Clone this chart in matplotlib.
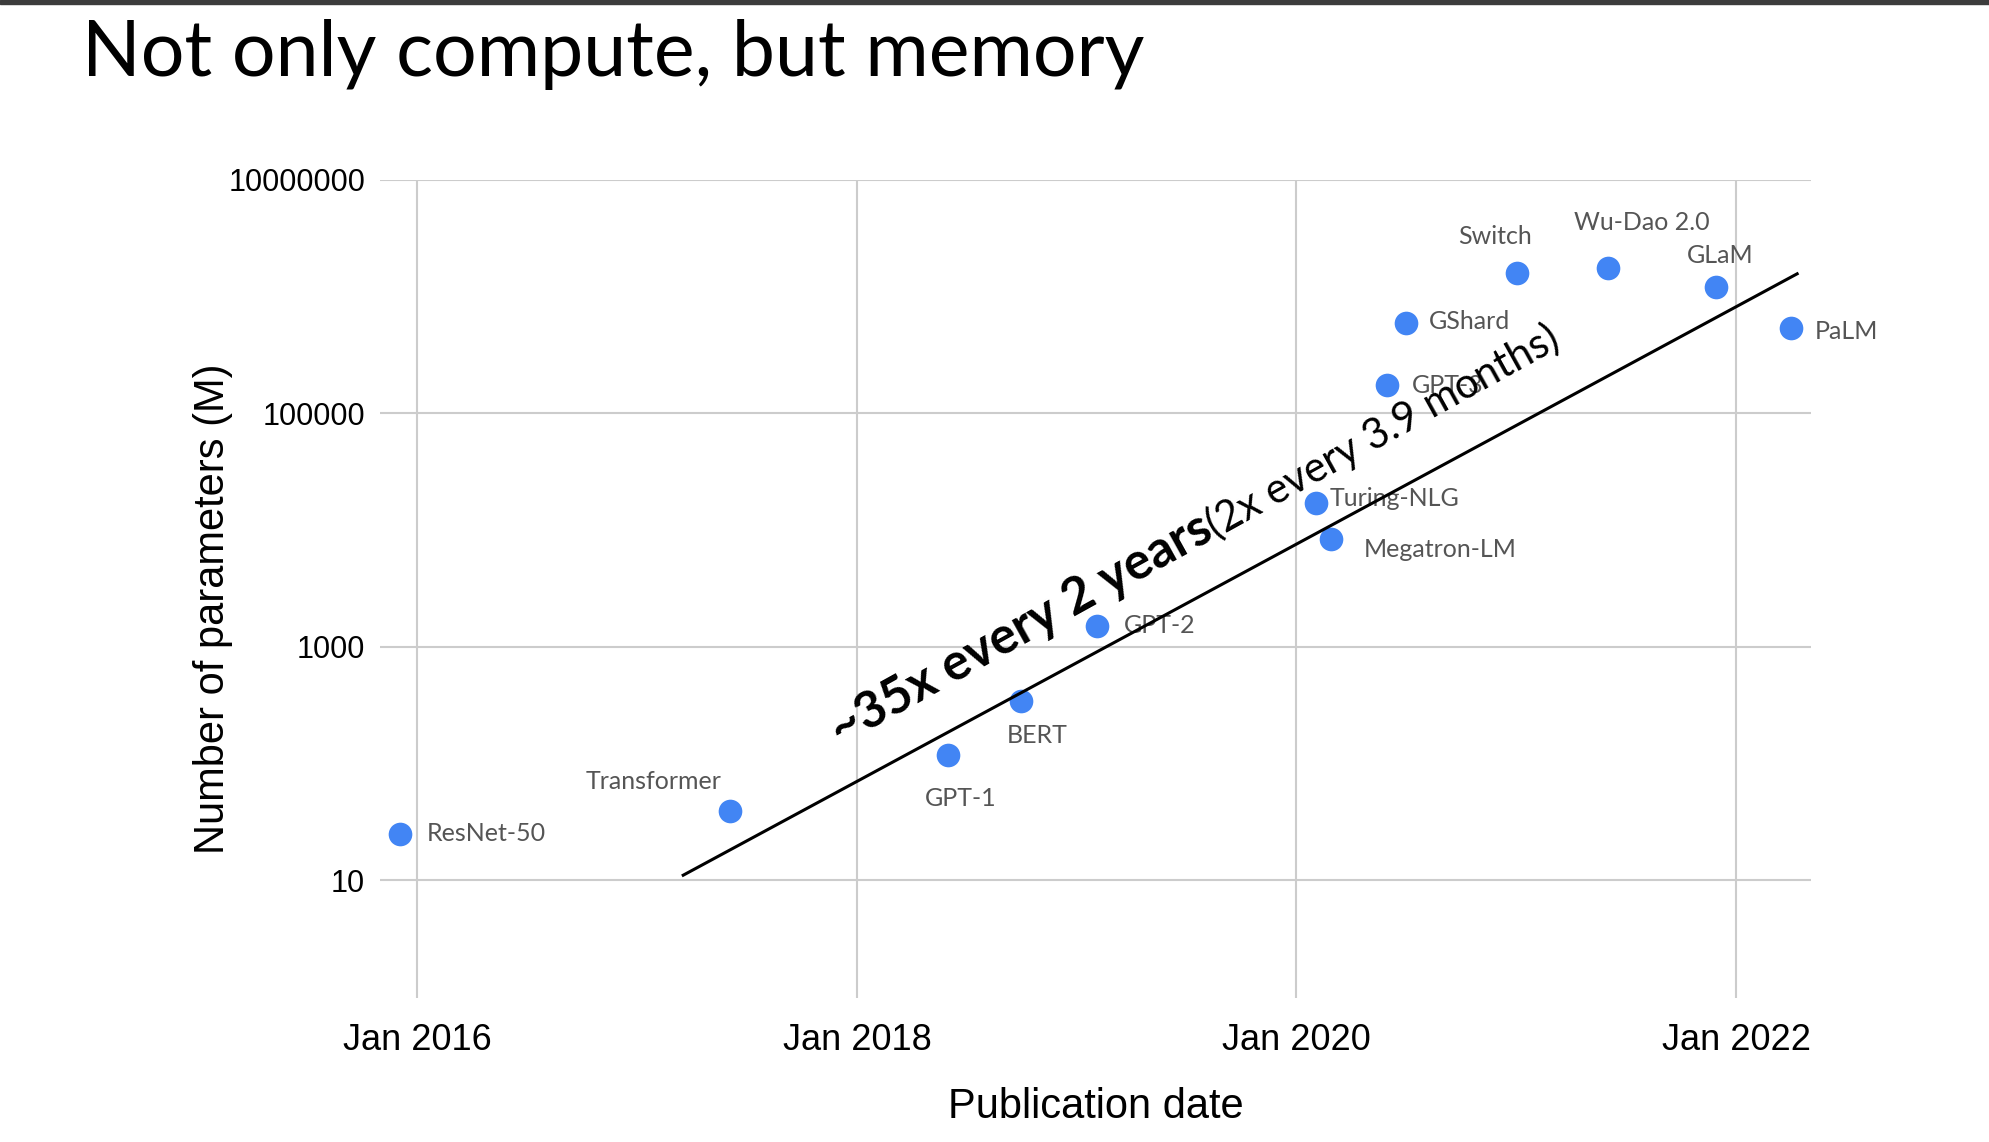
import pandas as pd
import numpy as np
import matplotlib
matplotlib.use('Agg')
import matplotlib.pyplot as plt
from matplotlib.patches import Rectangle

# data
models = ['ResNet-50', 'Transformer', 'GPT-1', 'BERT', 'GPT-2', 'Megatron-LM', 'Turing-NLG',
          'GPT-3', 'GShard', 'Switch', 'Wu-Dao 2.0', 'GLaM', 'PaLM']
pub_dates = ['2015-12-03', '2017-06-03', '2018-06-01', '2018-10-01', '2019-02-03', '2020-02-28',
             '2020-02-03', '2020-05-30', '2020-07-01', '2021-01-01', '2021-06-01', '2021-11-28',
             '2022-04-01']
params_m = [25, 39, 117, 340, 1500, 8300, 17000, 175000, 600000, 1600000, 1750000, 1200000, 540000]

trend_dates = ['2017-03-18', '2022-04-12']
trend_vals = [11, 1570000]

ytick_vals = [10, 1000, 100000, 10000000]
ytick_labels = ['10', '1000', '100000', '10000000']
xtick_dates = ['2016-01-01', '2018-01-01', '2020-01-01', '2022-01-01']
xtick_labels = ['Jan 2016', 'Jan 2018', 'Jan 2020', 'Jan 2022']

# label placement (offset pixels, ha)
label_pos = {
    'ResNet-50': (27, 0, 'left'), 'Transformer': (-76, 30, 'center'), 'GPT-1': (13, -43, 'center'),
    'BERT': (16, -34, 'center'), 'GPT-2': (27, 1, 'left'), 'Megatron-LM': (32, -10, 'left'),
    'Turing-NLG': (13, 5, 'left'), 'GPT-3': (25, -1, 'left'), 'GShard': (23, 1, 'left'),
    'Switch': (-22, 36, 'center'), 'Wu-Dao 2.0': (34, 46, 'center'), 'GLaM': (4, 32, 'center'),
    'PaLM': (24, -4, 'left'),
}

df = pd.DataFrame({'model': models, 'date': pd.to_datetime(pub_dates), 'params': params_m})

fig = plt.figure(figsize=(19.89, 11.42), dpi=100)
fig.patches.append(Rectangle((0, 1 - 4 / 1142), 1, 4 / 1142, transform=fig.transFigure,
                             color='#3c3c3c', zorder=0))

ax = fig.add_axes([0.1913, 0.1261, 0.7192, 0.7163])
ax.set_yscale('log')
ax.set_xlim(pd.Timestamp('2015-11-01'), pd.Timestamp('2022-05-05'))
ax.set_ylim(0.975, 1e7)

for s in ax.spines.values():
    s.set_visible(False)
ax.set_yticks(ytick_vals)
ax.set_yticklabels(ytick_labels, fontfamily='Liberation Sans', fontsize=22)
ax.yaxis.set_minor_locator(matplotlib.ticker.NullLocator())
ax.set_xticks(pd.to_datetime(xtick_dates))
ax.set_xticklabels(xtick_labels, fontfamily='Liberation Sans', fontsize=26)
ax.tick_params(axis='both', length=0)
ax.tick_params(axis='y', pad=11)
ax.tick_params(axis='x', pad=18)
ax.grid(True, color='#cccccc', linewidth=1.5)
ax.set_axisbelow(True)

ax.scatter(df['date'], df['params'], s=290, color='#4285F4', zorder=3, linewidths=0)

for _, r in df.iterrows():
    dx, dy, ha = label_pos[r['model']]
    ax.annotate(r['model'], xy=(r['date'], r['params']), xytext=(dx, dy),
                textcoords='offset pixels', ha=ha, va='center', fontsize=18,
                fontfamily='Lato', color='#555555', zorder=4)

ax.plot(pd.to_datetime(trend_dates), trend_vals, color='black', linewidth=2.2, zorder=5)

# slanted annotation: bold part then regular part
rot = 29
anchor = (pd.Timestamp('2017-12-04'), 140)
t1 = ax.text(anchor[0], anchor[1], '~35x every 2 years', rotation=rot, rotation_mode='anchor',
             ha='left', va='baseline', fontsize=36.5, fontweight='bold', fontfamily='Lato',
             color='black', zorder=6)
fig.canvas.draw()
tmp = fig.text(0, 0, '~35x every 2 years', fontsize=36.5, fontweight='bold', fontfamily='Lato')
w = tmp.get_window_extent(renderer=fig.canvas.get_renderer()).width
tmp.remove()
ax.annotate('(2x every 3.9 months)', xy=anchor, xytext=(w * np.cos(np.radians(rot)), w * np.sin(np.radians(rot))),
            textcoords='offset pixels', rotation=rot, rotation_mode='anchor', ha='left', va='baseline',
            fontsize=30, fontfamily='Lato', color='black', zorder=6)

fig.text(0.5 * (0.1913 + 0.9105), 1 - 1107 / 1142, 'Publication date', ha='center', va='center',
         fontsize=30, fontfamily='Liberation Sans')
fig.text(213 / 1989, 1 - 609 / 1142, 'Number of parameters (M)', ha='center', va='center',
         rotation=90, fontsize=30, fontfamily='Liberation Sans')

fig.text(82 / 1989, 1 - 76 / 1142, 'Not only compute, but memory', ha='left', va='baseline',
         fontsize=55.5, fontfamily='Lato', color='black')

fig.savefig('out.png', dpi=100)
